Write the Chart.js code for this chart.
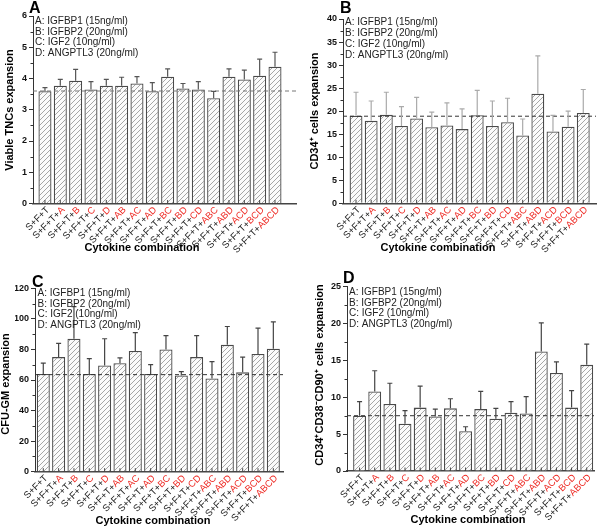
<!DOCTYPE html>
<html><head><meta charset="utf-8">
<script src="https://cdn.jsdelivr.net/npm/chart.js@4/dist/chart.umd.min.js"></script>
<style>
html,body{margin:0;padding:0;background:#fff;width:600px;height:527px;overflow:hidden}
canvas{position:absolute;left:0;top:0}
</style></head>
<body>
<canvas id="cA" width="600" height="527"></canvas>
<canvas id="cB" width="600" height="527"></canvas>
<canvas id="cC" width="600" height="527"></canvas>
<canvas id="cD" width="600" height="527"></canvas>
<script>
// ---------- data ----------
const categories = ['S+F+T','S+F+T+A','S+F+T+B','S+F+T+C','S+F+T+D','S+F+T+AB','S+F+T+AC','S+F+T+AD',
  'S+F+T+BC','S+F+T+BD','S+F+T+CD','S+F+T+ABC','S+F+T+ABD','S+F+T+ACD','S+F+T+BCD','S+F+T+ABCD'];
const legendLines = ['A: IGFBP1 (15ng/ml)','B: IGFBP2 (20ng/ml)','C: IGF2 (10ng/ml)','D: ANGPTL3 (20ng/ml)'];

const tncMean = [3.59,3.77,3.93,3.65,3.77,3.77,3.84,3.59,4.06,3.68,3.65,3.37,4.06,3.97,4.09,4.38];
const tncSD   = [0.12,0.20,0.36,0.25,0.20,0.27,0.22,0.28,0.25,0.16,0.25,0.22,0.25,0.30,0.53,0.46];
const tncRef  = 3.6;

const cd34Mean = [19.0,17.9,19.2,16.8,18.4,16.5,16.9,16.1,19.1,16.8,17.6,14.7,23.8,15.6,16.6,19.6];
const cd34SD   = [5.1,4.3,4.9,4.2,4.6,3.3,4.9,4.4,5.4,5.4,5.2,3.6,8.2,3.5,3.4,5.1];
const cd34Ref  = 18.9;

const cfuMean = [64,75,87,64,69.5,71,79,64,80,63,75,61,83,65,77,80.5];
const cfuSD   = [7,9,21,10,17.5,3.5,12,6,9,2.5,14,11,12,10,17,17.5];
const cfuRef  = 63.5;

const cd90Mean = [7.5,10.8,9.1,6.4,8.6,7.4,8.5,5.4,8.4,7.1,7.9,7.8,16.2,13.3,8.6,14.4];
const cd90SD   = [1.9,2.8,2.8,1.8,2.9,1.0,1.3,0.6,2.4,1.4,1.5,2.3,3.9,1.5,2.3,2.8];
const cd90Ref  = 7.5;

// ---------- styling ----------
Chart.defaults.font.family = "'Liberation Sans', Arial, sans-serif";
const FONT = "'Liberation Sans', Arial, sans-serif";

function hatch(){
  const c = document.createElement('canvas'); c.width = 5; c.height = 5;
  const g = c.getContext('2d');
  g.fillStyle = '#fbfbfb'; g.fillRect(0,0,5,5);
  g.strokeStyle = '#9c9c9c'; g.lineWidth = 0.9;
  g.beginPath();
  g.moveTo(0,5); g.lineTo(5,0);
  g.moveTo(-1,1); g.lineTo(1,-1);
  g.moveTo(4,6); g.lineTo(6,4);
  g.stroke();
  return g.createPattern(c,'repeat');
}

function makePanel(id, p){
  const canvas = document.getElementById(id);
  const pattern = hatch();
  const overlay = {
    id:'overlay'+id,
    afterDatasetsDraw(chart){
      const ctx = chart.ctx, ys = chart.scales.y, xs = chart.scales.x;
      const meta = chart.getDatasetMeta(1);
      ctx.save();
      // error bars
      ctx.strokeStyle = p.errColor; ctx.lineWidth = 1.2;
      meta.data.forEach((bar,i)=>{
        const top = ys.getPixelForValue(p.mean[i] + p.sd[i]);
        ctx.beginPath();
        ctx.moveTo(bar.x, bar.y); ctx.lineTo(bar.x, top);
        ctx.moveTo(bar.x-2.5, top); ctx.lineTo(bar.x+2.5, top);
        ctx.stroke();
      });
      // small x ticks
      ctx.strokeStyle = '#444'; ctx.lineWidth = 1;
      const base = chart.chartArea.bottom;
      categories.forEach((c,i)=>{
        const x = xs.getPixelForValue(i+1);
        ctx.beginPath(); ctx.moveTo(x, base); ctx.lineTo(x, base-3.5); ctx.stroke();
      });
      ctx.restore();
    },
    afterDraw(chart){
      const ctx = chart.ctx, ys = chart.scales.y, xs = chart.scales.x, a = chart.chartArea;
      ctx.save();
      // minor y ticks
      ctx.strokeStyle = '#333'; ctx.lineWidth = 1;
      for (let v = p.step/2; v < p.ymax; v += p.step){
        const y = Math.round(ys.getPixelForValue(v)) + 0.5;
        ctx.beginPath(); ctx.moveTo(a.left, y); ctx.lineTo(a.left-2.5, y); ctx.stroke();
      }
      // x tick labels
      ctx.font = '9.5px ' + FONT; ctx.textBaseline = 'middle'; ctx.textAlign = 'right';
      categories.forEach((c,i)=>{
        const x = xs.getPixelForValue(i+1);
        ctx.save(); ctx.translate(x+3, a.bottom+5); ctx.rotate(-Math.PI/4);
        const pre = 'S+F+T+';
        if (c.indexOf(pre) !== 0){ ctx.fillStyle = '#222'; ctx.fillText(c,0,0); }
        else {
          const suf = c.slice(pre.length);
          ctx.fillStyle = '#ee2a24'; ctx.fillText(suf,0,0);
          const w = ctx.measureText(suf).width;
          ctx.fillStyle = '#222'; ctx.fillText(pre,-w,0);
        }
        ctx.restore();
      });
      // legend text
      ctx.font = '10px ' + FONT; ctx.fillStyle = '#222'; ctx.textAlign = 'left'; ctx.textBaseline = 'middle';
      legendLines.forEach((t,i)=> ctx.fillText(t, p.legX, p.legY + i*10.8));
      // panel letter
      ctx.font = 'bold 16px ' + FONT; ctx.fillStyle = '#000'; ctx.textBaseline = 'alphabetic';
      ctx.fillText(p.letter, p.letX, p.letY);
      // x title
      ctx.font = 'bold 11px ' + FONT; ctx.textAlign = 'center'; ctx.textBaseline = 'middle';
      ctx.fillText('Cytokine combination', p.xtX, p.xtY);
      // y title
      ctx.save(); ctx.translate(p.ytX, p.ytY); ctx.rotate(-Math.PI/2);
      ctx.fillText(p.yTitle, 0, 0);
      ctx.restore();
      ctx.restore();
    }
  };
  new Chart(canvas, {
    type:'bar',
    data:{ datasets:[
      { type:'line', data:[{x:p.xmin,y:p.ref},{x:p.xmax,y:p.ref}], borderColor:p.refColor,
        borderWidth:1, borderDash:[4,3], pointRadius:0, order:0 },
      { type:'bar', data:p.mean.map((v,i)=>({x:i+1,y:v})), backgroundColor:pattern,
        borderColor:'#4a4a4a', borderWidth:1.3, barPercentage:0.85, categoryPercentage:1, order:1 }
    ]},
    options:{
      responsive:false, animation:false, events:[],
      plugins:{ legend:{display:false}, tooltip:{enabled:false} },
      layout:{ padding:{ left:p.L-20, top:p.T, right:600-p.R, bottom:527-p.B } },
      scales:{
        x:{ type:'linear', min:p.xmin, max:p.xmax, offset:false,
            ticks:{display:false}, grid:{display:false},
            border:{color:'#444', width:1.6}, afterFit:s=>{s.height=0;} },
        y:{ min:0, max:p.ymax,
            ticks:{stepSize:p.step, color:'#111', padding:2, font:{size:9, weight:'bold'}},
            grid:{drawOnChartArea:false, tickLength:4, color:'#333'},
            border:{color:'#333', width:1}, afterFit:s=>{s.width=20;} }
      }
    },
    plugins:[overlay]
  });
}

makePanel('cA', { mean:tncMean, sd:tncSD, ref:tncRef, ymax:6, step:1,
  L:33, R:296, T:16, B:203.5, xmin:0.22, xmax:17.37, errColor:'#555', refColor:'#777',
  letter:'A', letX:29, letY:13, legX:35, legY:21, xtX:142, xtY:248, ytX:10, ytY:110,
  yTitle:'Viable TNCs expansion' });
makePanel('cB', { mean:cd34Mean, sd:cd34SD, ref:cd34Ref, ymax:40, step:5,
  L:343, R:596, T:19, B:203.3, xmin:0.14, xmax:16.84, errColor:'#aaa', refColor:'#333',
  letter:'B', letX:340, letY:13, legX:345, legY:22.5, xtX:438, xtY:248, ytX:315, ytY:111,
  yTitle:'CD34\u207A cells expansion' });
makePanel('cC', { mean:cfuMean, sd:cfuSD, ref:cfuRef, ymax:120, step:20,
  L:35, R:283, T:288.3, B:471.7, xmin:0.46, xmax:16.63, errColor:'#444', refColor:'#333',
  letter:'C', letX:32, letY:287, legX:37.5, legY:293, xtX:153, xtY:521, ytX:6, ytY:384,
  yTitle:'CFU-GM expansion' });
makePanel('cD', { mean:cd90Mean, sd:cd90SD, ref:cd90Ref, ymax:25, step:5,
  L:347, R:594, T:286.7, B:471, xmin:0.17, xmax:16.48, errColor:'#444', refColor:'#333',
  letter:'D', letX:343, letY:283, legX:349, legY:292, xtX:468, xtY:520, ytX:320, ytY:375,
  yTitle:'CD34\u207ACD38\u207BCD90\u207A cells expansion' });
</script>
</body></html>
